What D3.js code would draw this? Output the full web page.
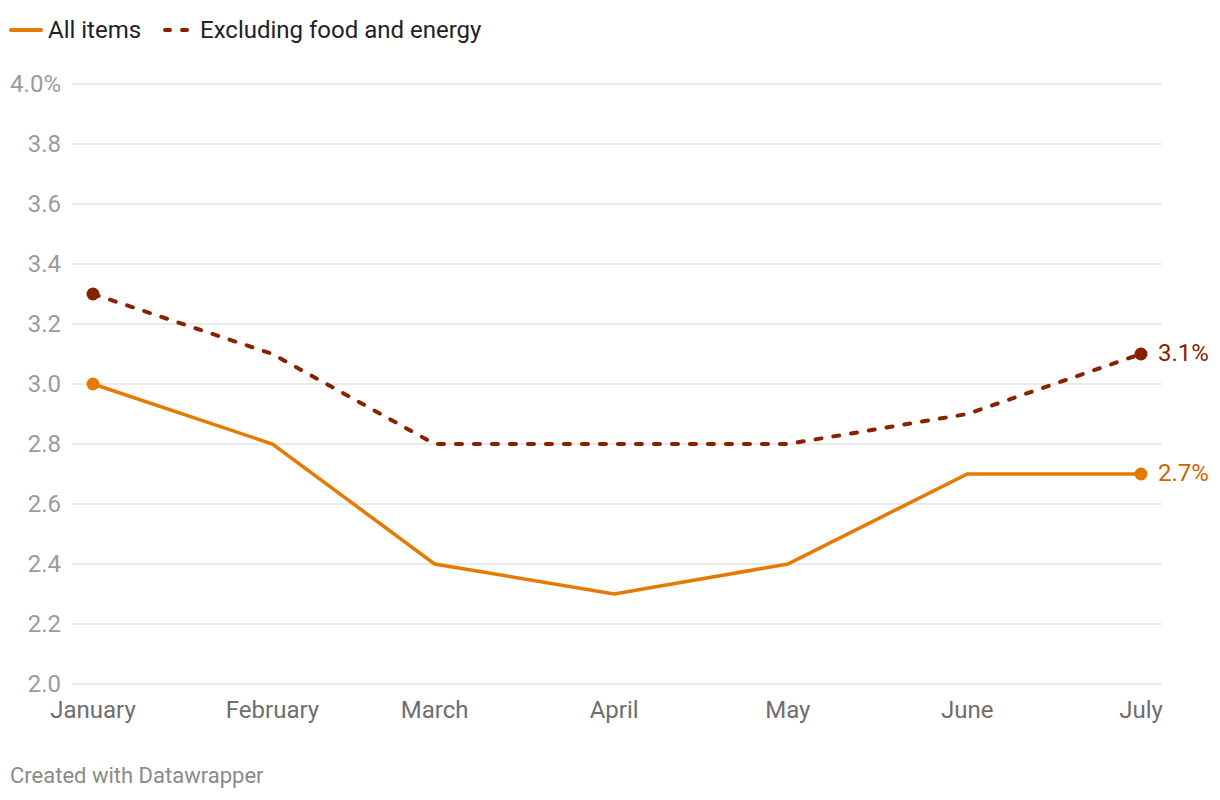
<!DOCTYPE html>
<html>
<head>
<meta charset="utf-8">
<script src="https://cdn.jsdelivr.net/npm/d3@7"></script>
<style>
  body { margin: 0; background: #fff; font-family: Roboto, "Noto Sans", sans-serif; }
</style>
</head>
<body>
<div class="chart"></div>
<script>
const months = ["January", "February", "March", "April", "May", "June", "July"];
const allItems = [3.0, 2.8, 2.4, 2.3, 2.4, 2.7, 2.7];
const coreItems = [3.3, 3.1, 2.8, 2.8, 2.8, 2.9, 3.1];
const yTicks = [2.0, 2.2, 2.4, 2.6, 2.8, 3.0, 3.2, 3.4, 3.6, 3.8, 4.0];

const width = 1220, height = 800;
const orange = "#e67a00", darkred = "#862200";

const svg = d3.select(".chart").append("svg")
  .attr("width", width)
  .attr("height", height);

const dates = months.map((m, i) => new Date(2025, i, 1));

const x = d3.scaleTime()
  .domain([dates[0], dates[dates.length - 1]])
  .range([93, 1141]);

const y = d3.scaleLinear()
  .domain([2.0, 4.0])
  .range([684, 84]);

// gridlines + y labels
const yAxis = svg.append("g");
yAxis.selectAll("line")
  .data(yTicks)
  .join("line")
  .attr("x1", 72).attr("x2", 1162)
  .attr("y1", d => y(d)).attr("y2", d => y(d))
  .attr("stroke", "#e3e3e3")
  .attr("stroke-width", 1.5);

yAxis.selectAll("text")
  .data(yTicks)
  .join("text")
  .attr("x", 61)
  .attr("y", d => y(d) + 8)
  .attr("text-anchor", "end")
  .attr("font-size", 24)
  .attr("fill", "#9b9b9b")
  .text((d, i) => i === yTicks.length - 1 ? d.toFixed(1) + "%" : d.toFixed(1));

// x labels
svg.append("g").selectAll("text")
  .data(months)
  .join("text")
  .attr("x", (d, i) => x(dates[i]))
  .attr("y", 718)
  .attr("text-anchor", "middle")
  .attr("font-size", 24)
  .attr("fill", "#6e6e6e")
  .text(d => d);

// lines
const line = d3.line()
  .x((d, i) => x(dates[i]))
  .y(d => y(d));

svg.append("path")
  .datum(coreItems)
  .attr("d", line)
  .attr("fill", "none")
  .attr("stroke", darkred)
  .attr("stroke-width", 4)
  .attr("stroke-linecap", "round")
  .attr("stroke-dasharray", "6,12");

svg.append("path")
  .datum(allItems)
  .attr("d", line)
  .attr("fill", "none")
  .attr("stroke", orange)
  .attr("stroke-width", 3.5);

// end dots
const series = [
  {values: coreItems, color: darkred, label: darkred},
  {values: allItems, color: orange, label: "#cc6400"}
];
series.forEach(s => {
  const last = s.values.length - 1;
  [0, last].forEach(i => {
    svg.append("circle")
      .attr("cx", x(dates[i]))
      .attr("cy", y(s.values[i]))
      .attr("r", 6.5)
      .attr("fill", s.color);
  });
  svg.append("text")
    .attr("x", x(dates[last]) + 17)
    .attr("y", y(s.values[last]) + 7)
    .attr("font-size", 24)
    .attr("fill", s.label)
    .text(s.values[last].toFixed(1) + "%");
});

// legend
const legend = svg.append("g");
legend.append("line")
  .attr("x1", 11).attr("x2", 41).attr("y1", 30).attr("y2", 30)
  .attr("stroke", orange).attr("stroke-width", 4).attr("stroke-linecap", "round");
legend.append("text")
  .attr("x", 48).attr("y", 38)
  .attr("font-size", 24).attr("fill", "#222")
  .text("All items");
legend.append("line")
  .attr("x1", 165).attr("x2", 188).attr("y1", 30).attr("y2", 30)
  .attr("stroke", darkred).attr("stroke-width", 4)
  .attr("stroke-dasharray", "5,12").attr("stroke-linecap", "round");
legend.append("text")
  .attr("x", 200).attr("y", 38)
  .attr("font-size", 24).attr("fill", "#222")
  .text("Excluding food and energy");

// footer
svg.append("text")
  .attr("x", 10).attr("y", 783)
  .attr("font-size", 22)
  .attr("fill", "#8a8a8a")
  .text("Created with Datawrapper");
</script>
</body>
</html>
